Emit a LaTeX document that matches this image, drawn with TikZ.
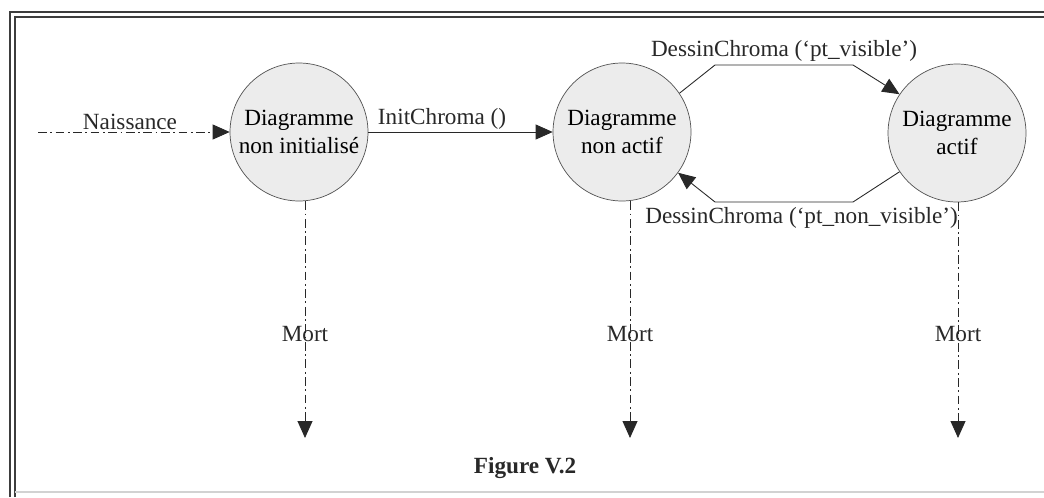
\documentclass[tikz,border=0pt]{standalone}
\usepackage{fontspec}
\setmainfont{Liberation Serif}
\usetikzlibrary{arrows.meta,positioning,calc}
\definecolor{ink}{RGB}{40,40,40}
\definecolor{disc}{RGB}{236,236,236}
\tikzset{
  >={Triangle[length=0.34cm,width=0.3cm]},
  etat/.style={circle,draw=ink!80,fill=disc,minimum size=2.76cm,inner sep=0pt,
    align=center,font=\fontsize{13.2}{15.5}\selectfont},
  trans/.style={->,draw=ink,line width=0.5pt},
  life/.style={->,draw=ink,line width=0.5pt,dash pattern=on 5pt off 2pt on 1pt off 2pt},
  tag/.style={font=\fontsize{13.2}{15.5}\selectfont,text=ink,inner sep=1pt},
  frame/.style={draw=ink!90,line width=1pt},
}
\begin{document}
\begin{tikzpicture}[x=0.02cm,y=-0.02cm]
  \useasboundingbox (0,0) rectangle (1044,497);
  % border
  \draw[frame] (10,497) -- (10,12) -- (1044,12);
  \draw[frame,line width=0.6pt] (15,497) -- (15,17) -- (1044,17);
  \draw[gray!35,line width=0.6pt] (15,492) -- (1044,492);
  % states
  \node[etat] (init) at (299,132) {Diagramme\\non initialis\'e};
  \node[etat] (inact) at (622,132) {Diagramme\\non actif};
  \node[etat] (act) at (957,133) {Diagramme\\actif};
  % birth and transitions
  \coordinate (born) at (38,132);
  \draw[life] (born) -- node[tag,above,pos=.48] {Naissance} (init);
  \draw[trans] (init) -- node[tag,above,pos=.4] {InitChroma ()} (inact);
  \coordinate (t1) at (715,65);
  \coordinate (t2) at (853,65);
  \draw[trans] (inact.34) -- (t1) -- node[tag,above=1pt] {DessinChroma (`pt\_visible')} (t2) -- (act.146);
  \coordinate (b1) at (853,202);
  \coordinate (b2) at (715,202);
  \draw[trans] (act.214) -- (b1) -- node[tag,below=2pt,xshift=10] {DessinChroma (`pt\_non\_visible')} (b2) -- (inact.324);
  % deaths
  \foreach \s/\x in {init/305,inact/630,act/958}
  {
    \coordinate (end-\s) at (\x,438);
    \draw[life] (\s.south -| end-\s) -- node[tag,pos=.56] {Mort} (end-\s);
  }
  \node[tag,font=\fontsize{13.2}{15.5}\selectfont\bfseries] (cap) at (525,468) {Figure V.2};
\end{tikzpicture}
\end{document}
